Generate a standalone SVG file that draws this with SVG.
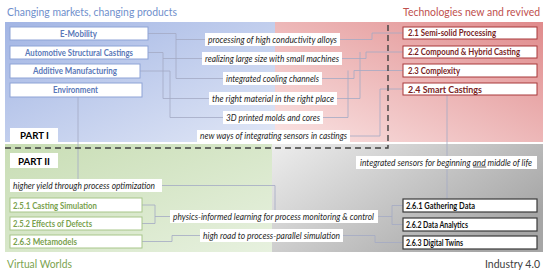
<svg xmlns="http://www.w3.org/2000/svg" width="550" height="273" viewBox="0 0 550 273">
<defs>
<linearGradient id="gBlue" x1="0" y1="0" x2="1" y2="1"><stop offset="0" stop-color="#a2b5e4"/><stop offset="1" stop-color="#e1e7f6"/></linearGradient>
<linearGradient id="gRed" x1="0" y1="1" x2="1" y2="0"><stop offset="0" stop-color="#fae4e4"/><stop offset="1" stop-color="#e08b8c"/></linearGradient>
<linearGradient id="gGreen" x1="0" y1="0" x2="1" y2="1"><stop offset="0" stop-color="#c8ddb4"/><stop offset="1" stop-color="#e7f1df"/></linearGradient>
<linearGradient id="gGray" x1="0" y1="0" x2="1" y2="0.6"><stop offset="0" stop-color="#ededed"/><stop offset="1" stop-color="#a6a6a6"/></linearGradient>
</defs>
<style>
text{font-family:Lato,"Liberation Sans",Arial,sans-serif}
.ttl{font-size:12px}
.lbl{font-size:9px;font-style:italic;fill:#262626}
.lb{fill:#ffffff}
.bx{font-size:9px;font-weight:bold}
.blue rect{fill:#fff;stroke:#8ea3d6;stroke-width:1}
.blue text{fill:#5a78b8}
.red rect{fill:#fff;stroke:#a8383a;stroke-width:1}
.red text{fill:#7a1f1f}
.green rect{fill:#fff;stroke:#a8c68a;stroke-width:1}
.green text{fill:#79a14d}
.gray rect{fill:#fff;stroke:#3a3a3a;stroke-width:1.2}
.gray text{fill:#111}
.part{font-size:10px;font-weight:bold;fill:#000}
.con path{fill:none;stroke:#a3aac4;stroke-width:0.8}
</style>
<rect x="0" y="0" width="550" height="273" fill="#fff"/>
<g id="regions">
<rect x="5" y="22" width="270" height="120" fill="url(#gBlue)"/>
<rect x="275" y="22" width="268" height="120" fill="url(#gRed)"/>
<rect x="5" y="144" width="267" height="108" fill="url(#gGreen)"/>
<rect x="272" y="144" width="271" height="108" fill="url(#gGray)"/>
</g>
<g id="titles">
<text class="ttl" x="7" y="16" fill="#6f8fcc" textLength="170" lengthAdjust="spacingAndGlyphs">Changing markets, changing products</text>
<text class="ttl" x="403" y="16" fill="#c0504d" textLength="137" lengthAdjust="spacingAndGlyphs" style="font-size:11.2px">Technologies new and revived</text>
<text class="ttl" x="7" y="268" fill="#7aa34f" textLength="65" lengthAdjust="spacingAndGlyphs">Virtual Worlds</text>
<text class="ttl" x="485" y="268" fill="#404040" textLength="55" lengthAdjust="spacingAndGlyphs">Industry 4.0</text>
</g>
<g id="connectors" class="con">
<path d="M148,33.5 H176 V78.5 H223 M176,39.5 H205"/>
<path d="M148,52.5 H163 V98.5 H209 M163,58.5 H202"/>
<path d="M140,71 H170 V117.5 H223"/>
<path d="M78,97 V179"/>
<path d="M340,39.5 H372 V33 H403"/>
<path d="M342,58.5 H366 V52 H403"/>
<path d="M337,98.5 H360 V52"/>
<path d="M322,78.5 H354 V70.5 H403"/>
<path d="M323,117.5 H348 V70.5"/>
<path d="M350,136 H380 V89 H403"/>
<path d="M447,95 V156 M447,169 V199"/>
<path d="M162,185.5 H275 V210"/>
<path d="M142,205 H155 V223.5 H142 M155,216.5 H170"/>
<path d="M142,241.5 H172 V235.5 H200"/>
<path d="M378,216.5 H392 M403,205.5 H392 V224.5 H403"/>
<path d="M343,235.5 H375 V242.5 H403"/>
</g>
<path id="divider" d="M5,148 H388 V24" fill="none" stroke="#404040" stroke-width="1.4" stroke-dasharray="6 4"/>
<g id="n-emobility" class="blue"><rect x="10" y="27" width="138" height="13"/><text class="bx" x="60" y="36.5" textLength="37" lengthAdjust="spacingAndGlyphs">E-Mobility</text></g>
<g id="n-automotive" class="blue"><rect x="10" y="46" width="138" height="13"/><text class="bx" x="25" y="55.5" textLength="108" lengthAdjust="spacingAndGlyphs">Automotive Structural Castings</text></g>
<g id="n-additive" class="blue"><rect x="10" y="64" width="130" height="14"/><text class="bx" x="33" y="74" textLength="84" lengthAdjust="spacingAndGlyphs">Additive Manufacturing</text></g>
<g id="n-environment" class="blue"><rect x="10" y="83" width="132" height="14"/><text class="bx" x="53" y="93" textLength="45" lengthAdjust="spacingAndGlyphs">Environment</text></g>
<g id="n-21" class="red"><rect x="403" y="27" width="134" height="12"/><text class="bx" x="408" y="36" textLength="88" lengthAdjust="spacingAndGlyphs">2.1 Semi-solid Processing</text></g>
<g id="n-22" class="red"><rect x="403" y="46" width="134" height="12"/><text class="bx" x="408" y="55" textLength="112" lengthAdjust="spacingAndGlyphs">2.2 Compound &amp; Hybrid Casting</text></g>
<g id="n-23" class="red"><rect x="403" y="64" width="134" height="13"/><text class="bx" x="408" y="74" textLength="52" lengthAdjust="spacingAndGlyphs">2.3 Complexity</text></g>
<g id="n-24" class="red"><rect x="403" y="83" width="134" height="12"/><text class="bx" x="408" y="92.5" textLength="74" lengthAdjust="spacingAndGlyphs">2.4 Smart Castings</text></g>
<g id="l-processing"><rect class="lb" x="205" y="33" width="135" height="13"/><text class="lbl" x="208" y="42.5" textLength="129" lengthAdjust="spacingAndGlyphs">processing of high conductivity alloys</text></g>
<g id="l-realizing"><rect class="lb" x="202" y="52" width="140" height="13"/><text class="lbl" x="205" y="61.5" textLength="134" lengthAdjust="spacingAndGlyphs">realizing large size with small machines</text></g>
<g id="l-cooling"><rect class="lb" x="223" y="72" width="99" height="13"/><text class="lbl" x="226" y="81.5" textLength="93" lengthAdjust="spacingAndGlyphs">integrated cooling channels</text></g>
<g id="l-material"><rect class="lb" x="209" y="92" width="128" height="13"/><text class="lbl" x="212" y="101.5" textLength="122" lengthAdjust="spacingAndGlyphs">the right material in the right place</text></g>
<g id="l-printed"><rect class="lb" x="223" y="111" width="100" height="13"/><text class="lbl" x="226" y="120.5" textLength="94" lengthAdjust="spacingAndGlyphs">3D printed molds and cores</text></g>
<g id="l-sensors-castings"><rect class="lb" x="197" y="130" width="153" height="12"/><text class="lbl" x="200" y="139" textLength="147" lengthAdjust="spacingAndGlyphs">new ways of integrating sensors in castings</text></g>
<g id="n-part1"><rect class="lb" x="10" y="128" width="48" height="14"/><text class="part" x="20" y="139" textLength="29" lengthAdjust="spacingAndGlyphs">PART I</text></g>
<g id="n-part2"><rect class="lb" x="10" y="153" width="48" height="15"/><text class="part" x="18" y="164.5" textLength="32" lengthAdjust="spacingAndGlyphs">PART II</text></g>
<g id="l-sensors-life"><rect class="lb" x="356" y="156" width="181" height="13"/><text class="lbl" x="532" y="165.5" text-anchor="end" textLength="172" lengthAdjust="spacingAndGlyphs" style="font-size:8.7px">integrated sensors for beginning and middle of life</text><line x1="473.2" y1="167" x2="486.2" y2="167" stroke="#262626" stroke-width="0.7"/></g>
<g id="l-yield"><rect class="lb" x="10" y="179" width="152" height="13"/><text class="lbl" x="13" y="188.5" textLength="142" lengthAdjust="spacingAndGlyphs">higher yield through process optimization</text></g>
<g id="l-physics"><rect class="lb" x="170" y="210" width="208" height="13"/><text class="lbl" x="173" y="219.5" textLength="201" lengthAdjust="spacingAndGlyphs">physics-informed learning for process monitoring &amp; control</text></g>
<g id="l-highroad"><rect class="lb" x="200" y="229" width="143" height="13"/><text class="lbl" x="203" y="238.5" textLength="137" lengthAdjust="spacingAndGlyphs">high road to process-parallel simulation</text></g>
<g id="n-251" class="green"><rect x="10" y="198" width="132" height="14"/><text class="bx" x="13" y="208.5" textLength="84" lengthAdjust="spacingAndGlyphs">2.5.1 Casting Simulation</text></g>
<g id="n-252" class="green"><rect x="10" y="217" width="132" height="13"/><text class="bx" x="13" y="227" textLength="79" lengthAdjust="spacingAndGlyphs">2.5.2 Effects of Defects</text></g>
<g id="n-263m" class="green"><rect x="10" y="235" width="132" height="13"/><text class="bx" x="13" y="245" textLength="64" lengthAdjust="spacingAndGlyphs">2.6.3 Metamodels</text></g>
<g id="n-261" class="gray"><rect x="403" y="199" width="134" height="13"/><text class="bx" x="406" y="208.5" textLength="69" lengthAdjust="spacingAndGlyphs">2.6.1 Gathering Data</text></g>
<g id="n-262" class="gray"><rect x="403" y="218" width="134" height="13"/><text class="bx" x="406" y="227.5" textLength="62" lengthAdjust="spacingAndGlyphs">2.6.2 Data Analytics</text></g>
<g id="n-263" class="gray"><rect x="403" y="236" width="134" height="13"/><text class="bx" x="406" y="245.5" textLength="57" lengthAdjust="spacingAndGlyphs">2.6.3 Digital Twins</text></g>
</svg>
